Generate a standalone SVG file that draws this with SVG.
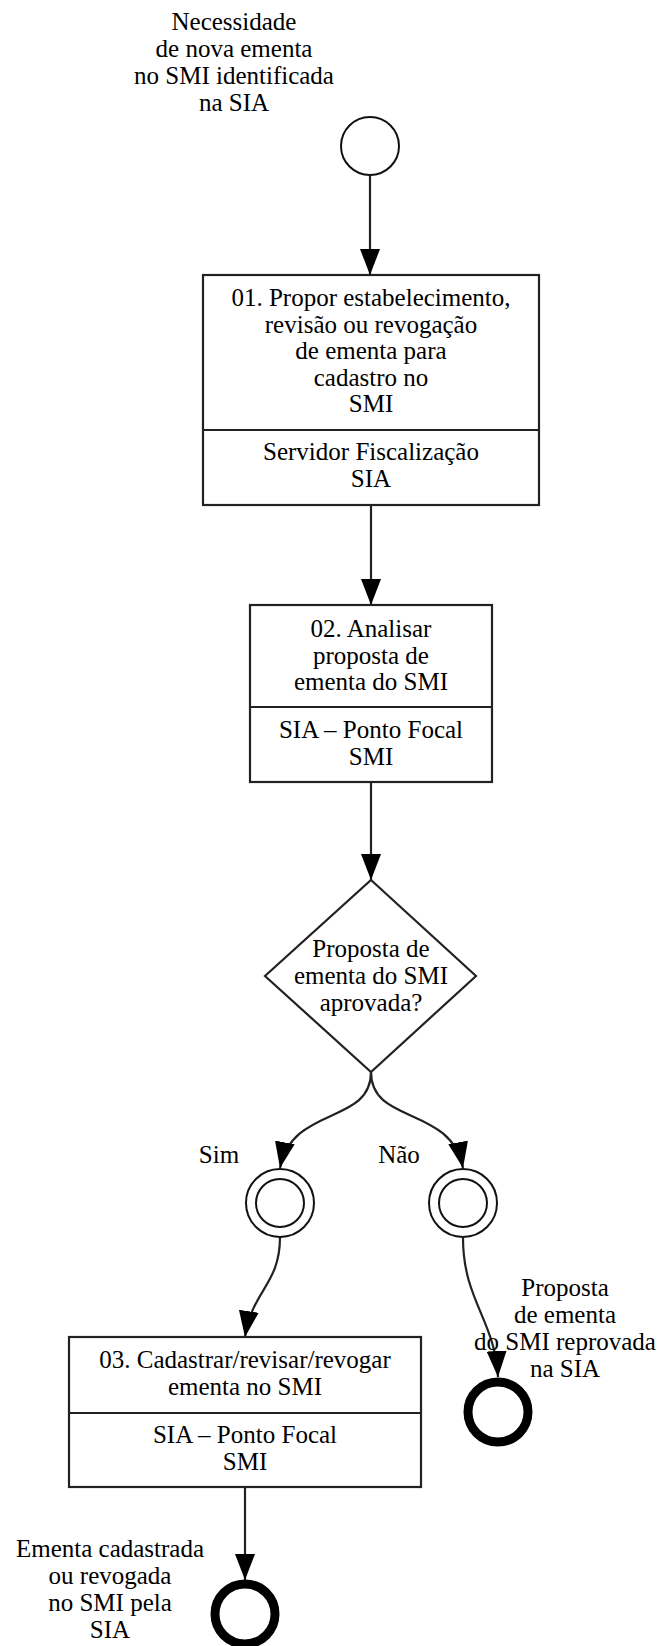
<svg xmlns="http://www.w3.org/2000/svg" width="668" height="1646" viewBox="0 0 668 1646">
<style>
text{font-family:"Liberation Serif","Times New Roman",serif;font-size:25px;fill:#000;text-anchor:middle}
.box{fill:#fff;stroke:#222;stroke-width:2.2}
.div{stroke:#222;stroke-width:2.2}
.ev{fill:#fff;stroke:#111;stroke-width:2}
.end{fill:#fff;stroke:#000;stroke-width:9}
.con{fill:none;stroke:#222;stroke-width:2.2;marker-end:url(#arr)}
</style>
<defs>
<marker id="arr" markerUnits="userSpaceOnUse" viewBox="0 0 26 20" refX="26" refY="10" markerWidth="26" markerHeight="20" orient="auto">
<path d="M0,0 L26,10 L0,20 z" fill="#000"/>
</marker>
</defs>
<g id="connectors">
<path class="con" d="M370,175 L370,275"/>
<path class="con" d="M371,505 L371,605"/>
<path class="con" d="M371,782 L371,880"/>
<path class="con" d="M371,1072 C371,1125 292,1105 280,1168"/>
<path class="con" d="M371,1072 C371,1125 451,1105 463,1168"/>
<path class="con" d="M280,1237 C280,1285 252,1290 245,1337"/>
<path class="con" d="M463,1238 C463,1300 495,1320 498,1377"/>
<path class="con" d="M245,1487 L245,1580"/>
</g>
<g id="start">
<circle class="ev" cx="370" cy="146" r="29"/>
<text x="234" y="30">Necessidade</text>
<text x="234" y="57">de nova ementa</text>
<text x="234" y="84">no SMI identificada</text>
<text x="234" y="111">na SIA</text>
</g>
<g id="task01">
<rect class="box" x="203" y="275" width="336" height="230"/>
<line class="div" x1="203" y1="430" x2="539" y2="430"/>
<text x="371" y="306">01. Propor estabelecimento,</text>
<text x="371" y="332.6">revisão ou revogação</text>
<text x="371" y="359.2">de ementa para</text>
<text x="371" y="385.8">cadastro no</text>
<text x="371" y="412">SMI</text>
<text x="371" y="460">Servidor Fiscalização</text>
<text x="371" y="487">SIA</text>
</g>
<g id="task02">
<rect class="box" x="250" y="605" width="242" height="177"/>
<line class="div" x1="250" y1="707" x2="492" y2="707"/>
<text x="371" y="637">02. Analisar</text>
<text x="371" y="663.5">proposta de</text>
<text x="371" y="690">ementa do SMI</text>
<text x="371" y="738">SIA – Ponto Focal</text>
<text x="371" y="765">SMI</text>
</g>
<g id="gateway">
<path d="M371,880 L476,976 L371,1072 L265,976 Z" fill="#fff" stroke="#222" stroke-width="2.2"/>
<text x="371" y="957">Proposta de</text>
<text x="371" y="984">ementa do SMI</text>
<text x="371" y="1011">aprovada?</text>
</g>
<g id="sim">
<circle class="ev" cx="280" cy="1203" r="34"/>
<circle class="ev" cx="280" cy="1203" r="24"/>
<text x="219" y="1163">Sim</text>
</g>
<g id="nao">
<circle class="ev" cx="463" cy="1203" r="34"/>
<circle class="ev" cx="463" cy="1203" r="24"/>
<text x="399" y="1163">Não</text>
</g>
<g id="task03">
<rect class="box" x="69" y="1337" width="352" height="150"/>
<line class="div" x1="69" y1="1413" x2="421" y2="1413"/>
<text x="245" y="1368">03. Cadastrar/revisar/revogar</text>
<text x="245" y="1395">ementa no SMI</text>
<text x="245" y="1443">SIA – Ponto Focal</text>
<text x="245" y="1470">SMI</text>
</g>
<g id="end-reprovada">
<circle class="end" cx="498" cy="1412" r="30"/>
<text x="565" y="1296">Proposta</text>
<text x="565" y="1323">de ementa</text>
<text x="565" y="1350">do SMI reprovada</text>
<text x="565" y="1377">na SIA</text>
</g>
<g id="end-cadastrada">
<circle class="end" cx="245" cy="1614" r="30"/>
<text x="110" y="1557">Ementa cadastrada</text>
<text x="110" y="1584">ou revogada</text>
<text x="110" y="1611">no SMI pela</text>
<text x="110" y="1638">SIA</text>
</g>
</svg>
